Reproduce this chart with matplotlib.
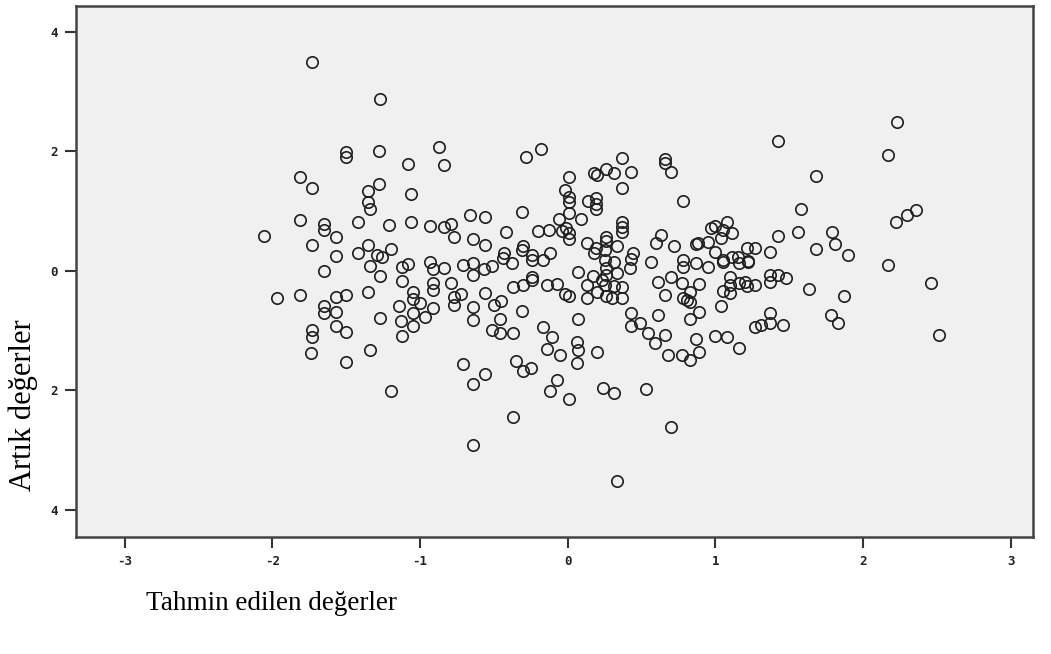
import matplotlib.pyplot as plt

# Tahmin edilen değerler (x) ve artık değerler (y)
x_pred = [
    -2.06, -1.97, -1.81, -1.73, -1.81, -1.73, -1.65, -1.65, -1.57, -1.73,
    -1.57, -1.65, -1.81, -1.65, -1.65, -1.57, -1.57, -1.57, -1.73, -1.73,
    -1.74, -1.50, -1.50, -1.50, -1.50, -1.50, -1.28, -1.27, -1.08, -0.87,
    -0.84, -1.28, -1.35, -1.35, -1.34, -1.06, -1.42, -1.21, -1.06, -0.93,
    -0.84, -0.79, -0.77, -0.66, -0.64, -1.42, -1.35, -1.29, -1.26, -1.20,
    -1.34, -1.27, -1.12, -1.08, -1.12, -0.93, -0.91, -0.84, -0.91, -0.79,
    -0.71, -0.64, -0.64, -1.35, -1.27, -1.34, -1.20, -1.14, -1.05, -1.05,
    -1.00, -0.91, -1.05, -1.05, -0.97, -1.13, -1.12, -0.91, -0.77, -0.77,
    -0.72, -0.64, -0.64, -0.71, -0.64, -0.64,
    -0.28, -0.18, -0.56, -0.56, -0.42, -0.31, -0.20, -0.13, -0.06, -0.30,
    -0.31, -0.43, -0.24, -0.24, -0.38, -0.12, -0.17, -0.44, -0.51, -0.57,
    -0.24, -0.24, -0.37, -0.30, -0.14, -0.07, -0.56, -0.50, -0.45, -0.46,
    -0.51, -0.46, -0.37, -0.31, -0.17, -0.11, -0.14, -0.05, -0.35, -0.30,
    -0.25, -0.56, -0.07, -0.12, -0.37,
    0.01, -0.02, 0.01, 0.01, 0.01, -0.01, 0.01, 0.01, -0.04, 0.14,
    0.19, 0.19, 0.19, 0.09, 0.18, 0.20, 0.26, 0.31, 0.37, 0.43,
    0.37, 0.66, 0.66, 0.70, 0.78, 0.37, 0.37, 0.37, 0.26, 0.26,
    0.33, 0.13, 0.19, 0.18, 0.25, 0.44, 0.43, 0.42, 0.25, 0.26,
    0.31, 0.33, 0.23, 0.26, 0.56, 0.63, 0.60, 0.72, 0.07, 0.13,
    0.17, -0.02, 0.01, 0.13, 0.20, 0.26, 0.30, 0.37, 0.37, 0.25,
    0.31, 0.43, 0.43, 0.49, 0.54, 0.59, 0.66, 0.61, 0.66, 0.68,
    0.77, 0.83, 0.07, 0.06, 0.07, 0.06, 0.20, 0.24, 0.31, 0.53,
    0.01, 0.70, 0.33, 0.61, 0.70, 0.78, 0.77, 0.78, 0.78, 0.87,
    0.87,
    0.83, 0.89, 0.83, 0.83, 0.89, 0.87, 0.89, 1.00, 1.08, 1.16,
    1.04, 1.05, 1.10, 1.10, 1.10, 1.16, 1.21, 1.27, 1.37, 1.37,
    1.42, 1.48, 1.37, 1.37, 1.31, 1.27, 1.46, 1.63, 1.87, 1.78,
    1.83, 2.17, 2.46, 2.51, 0.95, 1.05, 1.16, 1.22, 1.42, 1.68,
    1.58, 1.56, 1.42, 1.79, 1.81, 1.68, 1.90, 2.23, 2.17, 2.22,
    2.30, 2.36, 1.37, 1.08, 1.00, 0.97, 1.05, 1.11, 1.04, 0.95,
    0.88, 1.00, 1.05, 1.11, 1.21, 1.27, 1.22, 1.15, 1.20, 0.81,
]
resid = [
    0.59, -0.45, 1.57, 1.39, 0.85, 3.49, 0.79, 0.69, 0.57, 0.43,
    0.25, 0.00, -0.40, -0.59, -0.70, -0.43, -0.69, -0.92, -0.99, -1.10,
    -1.37, 1.99, 1.91, -0.40, -1.02, -1.52, 2.01, 2.88, 1.79, 2.07,
    1.77, 1.45, 1.34, 1.15, 1.04, 1.29, 0.82, 0.77, 0.82, 0.75,
    0.74, 0.79, 0.57, 0.94, 0.54, 0.30, 0.43, 0.27, 0.23, 0.37,
    0.08, -0.08, 0.07, 0.12, -0.17, 0.15, 0.03, 0.05, -0.20, -0.20,
    0.10, 0.13, -0.07, -0.35, -0.79, -1.32, -2.01, -0.59, -0.35, -0.47,
    -0.54, -0.62, -0.70, -0.92, -0.77, -0.84, -1.09, -0.32, -0.43, -0.57,
    -0.38, -0.60, -0.82, -1.56, -1.89, -2.91,
    1.91, 2.04, 0.90, 0.43, 0.65, 0.99, 0.67, 0.69, 0.87, 0.42,
    0.35, 0.30, 0.27, 0.18, 0.13, 0.30, 0.18, 0.22, 0.08, 0.03,
    -0.10, -0.15, -0.27, -0.23, -0.23, -0.22, -0.37, -0.57, -0.50, -0.80,
    -0.99, -1.04, -1.04, -0.67, -0.94, -1.10, -1.30, -1.40, -1.51, -1.67,
    -1.62, -1.72, -1.82, -2.01, -2.44,
    1.57, 1.35, 1.24, 1.15, 0.97, 0.72, 0.64, 0.54, 0.67, 1.17,
    1.22, 1.12, 1.04, 0.87, 1.64, 1.61, 1.71, 1.64, 1.89, 1.66,
    1.39, 1.87, 1.81, 1.66, 1.17, 0.82, 0.74, 0.65, 0.57, 0.50,
    0.42, 0.47, 0.38, 0.30, 0.35, 0.30, 0.20, 0.05, 0.18, 0.05,
    0.15, -0.03, -0.15, -0.07, 0.15, 0.60, 0.47, 0.42, -0.02, -0.23,
    -0.08, -0.38, -0.42, -0.45, -0.35, -0.42, -0.45, -0.45, -0.27, -0.23,
    -0.25, -0.70, -0.92, -0.87, -1.04, -1.20, -1.07, -0.74, -0.40, -1.40,
    -1.40, -1.49, -0.80, -1.19, -1.32, -1.54, -1.35, -1.96, -2.04, -1.97,
    -2.14, -2.61, -3.51, -0.18, -0.10, -0.45, -0.20, 0.18, 0.07, 0.45,
    0.13,
    -0.35, -0.22, -0.52, -0.80, -0.69, -1.14, -1.35, -1.09, -1.10, -1.29,
    -0.59, -0.33, -0.10, -0.23, -0.37, -0.20, -0.25, -0.23, -0.18, -0.07,
    -0.07, -0.12, -0.70, -0.87, -0.90, -0.94, -0.90, -0.30, -0.42, -0.74,
    -0.87, 0.10, -0.20, -1.07, 0.07, 0.15, 0.13, 0.15, 2.17, 1.59,
    1.04, 0.65, 0.59, 0.65, 0.45, 0.37, 0.27, 2.49, 1.94, 0.82,
    0.94, 1.02, 0.32, 0.82, 0.75, 0.72, 0.69, 0.64, 0.55, 0.48,
    0.47, 0.32, 0.18, 0.23, 0.38, 0.38, 0.17, 0.23, -0.18, -0.48,
]

x_ticks = [-3, -2, -1, 0, 1, 2, 3]
x_tick_labels = ['-3', '-2', '-1', '0', '1', '2', '3']
y_ticks = [4, 2, 0, -2, -4]
y_tick_labels = ['4', '2', '0', '2', '4']

fig = plt.figure(figsize=(10.51, 6.54), dpi=100)
ax = fig.add_axes([0.0723, 0.179, 0.9106, 0.812])
ax.set_facecolor('#f0f0f0')

ax.plot(x_pred, resid, linestyle='none', marker='o', markersize=8.2,
        markerfacecolor='none', markeredgecolor='#1e1e1e', markeredgewidth=1.2)

ax.set_xlim(-3.33, 3.15)
ax.set_ylim(-4.45, 4.43)

ax.set_xticks(x_ticks)
ax.set_xticklabels(x_tick_labels, fontfamily='DejaVu Sans Mono', fontsize=9,
                   fontweight='bold', color='#222222')
ax.set_yticks(y_ticks)
ax.set_yticklabels(y_tick_labels, fontfamily='DejaVu Sans Mono', fontsize=9,
                   fontweight='bold', color='#222222')
ax.tick_params(direction='out', length=8, width=1.5, color='#333333', pad=5)

for sp in ax.spines.values():
    sp.set_color('#444444')
    sp.set_linewidth(1.8)

fig.text(0.022, 1 - 405 / 654, 'Artık değerler', rotation=90,
         ha='center', va='center', fontfamily='Liberation Serif', fontsize=22)
fig.text(146 / 1051, 1 - 603 / 654, 'Tahmin edilen değerler',
         ha='left', va='center', fontfamily='Liberation Serif', fontsize=19.5)

fig.savefig('out.png', dpi=100, facecolor='white')
